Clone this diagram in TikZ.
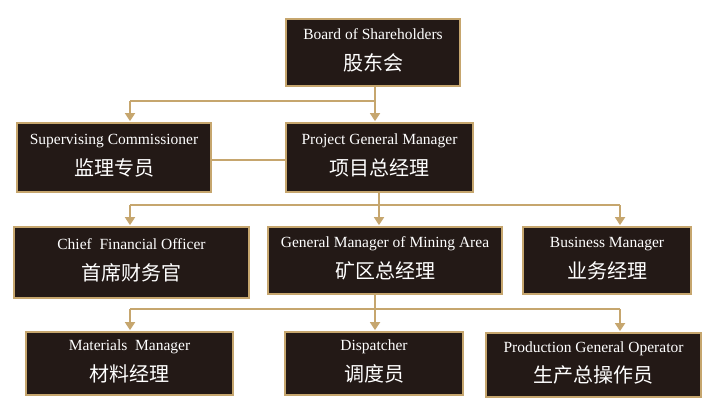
\documentclass[tikz,border=0pt]{standalone}
\usepackage{fontspec}
\setmainfont{Liberation Serif}
\newfontfamily\cjk{Noto Sans CJK SC}
\usetikzlibrary{arrows.meta,calc}
\definecolor{gold}{RGB}{198,166,110}
\definecolor{boxfill}{RGB}{35,25,22}
\tikzset{
  orgbox/.style={draw=gold,line width=1.8pt,fill=boxfill,inner sep=0pt},
  entext/.style={text=white,anchor=base,inner sep=0pt,font=\fontsize{15.5}{18}\selectfont},
  zhtext/.style={text=white,anchor=base,inner sep=0pt,font=\cjk\fontsize{20}{24}\selectfont},
  conn/.style={draw=gold,line width=1.8pt},
  connarr/.style={draw=gold,fill=gold,line width=1.8pt,-{Triangle[width=10pt,length=8pt]},shorten >=1pt},
}
\newcommand{\orgnode}[7]{%
  \node[orgbox,minimum width=#4pt,minimum height=#5pt] (#1) at (#2,#3) {};
  \node[entext] (#1-en) at ($(#1.center)+(0,-13)$) {#6};
  \node[zhtext] (#1-zh) at ($(#1.center)+(0,17.5)$) {#7};
}
\begin{document}
\begin{tikzpicture}[x=1pt,y=-1pt]
\useasboundingbox[fill=white] (0,0) rectangle (714,407);
% boxes
\orgnode{board}{373}{52.5}{174}{67}{Board of Shareholders}{股东会}
\orgnode{sup}{114}{157.5}{194}{69}{Supervising Commissioner}{监理专员}
\orgnode{pgm}{379.5}{157.5}{187}{69}{Project General Manager}{项目总经理}
\orgnode{cfo}{131.5}{262.5}{235}{71}{Chief\ \ Financial Officer}{首席财务官}
\orgnode{gmm}{385}{260.5}{234}{67}{General Manager of Mining Area}{矿区总经理}
\orgnode{bm}{607}{260.5}{168}{67}{Business Manager}{业务经理}
\orgnode{mat}{129.5}{363.5}{207}{63}{Materials\ \ Manager}{材料经理}
\orgnode{dis}{374}{363.5}{178}{63}{Dispatcher}{调度员}
\orgnode{pro}{593.5}{365}{215}{64}{Production General Operator}{生产总操作员}
% level 1
\coordinate (j1) at (375,101);
\coordinate (l1) at (130,101);
\coordinate (m1) at (250,160);
\draw[conn] (board.south -| j1) -- (j1) -- (l1);
\draw[connarr] (l1) -- (l1 |- sup.north);
\draw[connarr] (j1) -- (j1 |- pgm.north);
\draw[conn] (m1 -| sup.east) -- (m1 -| pgm.west);
% level 2
\coordinate (j2) at (379,205);
\coordinate (l2) at (130,205);
\coordinate (r2) at (620,205);
\draw[conn] (pgm.south -| j2) -- (j2);
\draw[conn] (l2) -- (r2);
\draw[connarr] (l2) -- (l2 |- cfo.north);
\draw[connarr] (j2) -- (j2 |- gmm.north);
\draw[connarr] (r2) -- (r2 |- bm.north);
% level 3
\coordinate (j3) at (375,309);
\coordinate (l3) at (130,309);
\coordinate (r3) at (620,309);
\draw[conn] (gmm.south -| j3) -- (j3);
\draw[conn] (l3) -- (r3);
\draw[connarr] (l3) -- (l3 |- mat.north);
\draw[connarr] (j3) -- (j3 |- dis.north);
\draw[connarr] (r3) -- (r3 |- pro.north);
\end{tikzpicture}
\end{document}
